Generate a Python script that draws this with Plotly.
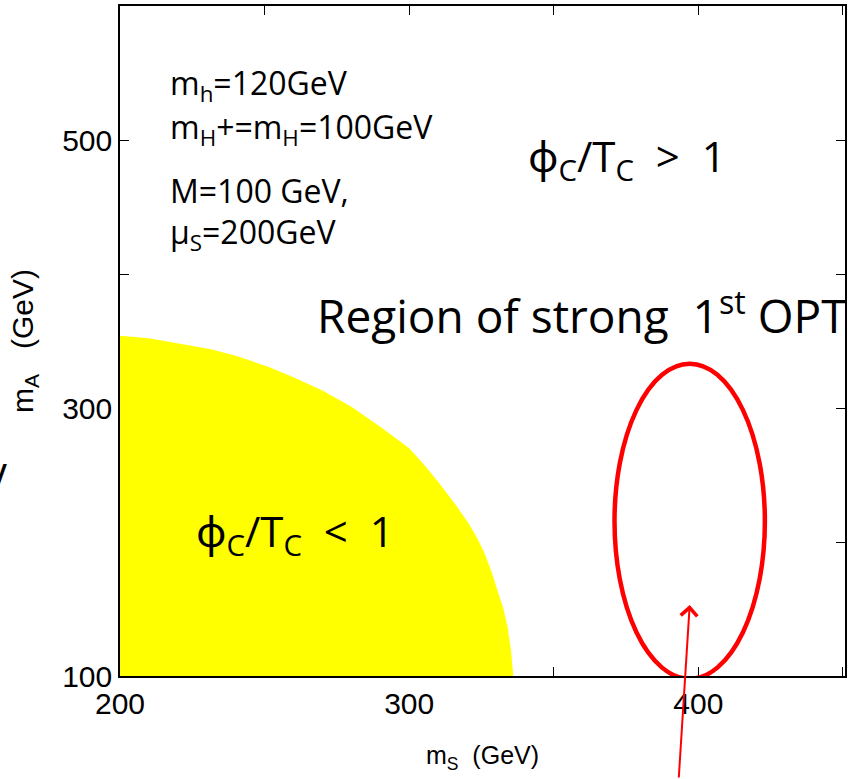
import plotly.graph_objects as go

# Boundary of the region where phi_C/T_C < 1
boundary_ms = [200, 210, 221, 231, 240, 251, 260, 270, 280, 290, 300, 305, 310,
               316, 320.5, 323.5, 326, 328.6, 330.5, 332.5, 334, 335.2, 336]
boundary_ma = [354, 352, 348, 344, 339, 331, 323, 313, 301, 286, 270, 258, 245,
               228, 214, 203, 192, 177, 164, 151, 137, 119, 100]

x_major = [200, 300, 400]
y_major = [100, 300, 500]

# highlighted region (ellipse) in data units
ell_x = [371, 423]
ell_y = [98, 333]
arrow_tip = (397, 153)

fig = go.Figure()
fig.add_trace(go.Scatter(
    x=[200] + boundary_ms + [200],
    y=[100] + boundary_ma + [100],
    fill="toself", fillcolor="#FFFF00", mode="lines",
    line=dict(width=0, color="#FFFF00"), hoverinfo="skip", showlegend=False))

axis_font = dict(family="Liberation Sans Narrow, Liberation Sans, Arial", size=30, color="black")
common = dict(ticks="inside", ticklen=9, tickwidth=1, tickcolor="black",
              showline=True, linecolor="black", linewidth=1.5, mirror="ticks",
              showgrid=False, zeroline=False, layer="below traces", tickfont=axis_font)
fig.update_xaxes(range=[200, 450.7], tickvals=x_major,
                 minor=dict(dtick=50, tick0=200, ticks="inside", ticklen=9, tickcolor="black", showgrid=False),
                 title=dict(text="m<sub>S</sub>  (GeV)",
                            font=dict(family="Liberation Sans, Arial", size=25, color="black"),
                            standoff=28),
                 **common)
fig.update_yaxes(range=[100, 600], tickvals=y_major,
                 minor=dict(dtick=100, tick0=100, ticks="inside", ticklen=9, tickcolor="black", showgrid=False),
                 title=dict(text="m<sub>A</sub>   (GeV)",
                            font=dict(family="Liberation Sans, Arial", size=30, color="black"),
                            standoff=20),
                 **common)

fig.add_shape(type="circle", xref="x", yref="y", x0=ell_x[0], x1=ell_x[1],
              y0=ell_y[0], y1=ell_y[1], line=dict(color="#FF0000", width=4.5))

txt = "Open Sans, Noto Sans, DejaVu Sans"
def note(text, x, y, size, **kw):
    fig.add_annotation(text=text, x=x, y=y, xref="x", yref="y", showarrow=False,
                       xanchor="left", yanchor="middle",
                       font=dict(family=txt, size=size, color="black"), **kw)

note("m<sub>h</sub>=120GeV", 216.5, 541, 32)
note("m<sub>H</sub>+=m<sub>H</sub>=100GeV", 216.5, 508, 32)
note("M=100 GeV,", 216.5, 462, 32)
note("μ<sub>S</sub>=200GeV", 216.5, 430, 32)
note("ϕ<sub>C</sub>/T<sub>C</sub>  >  1", 340.5, 486, 42)
note("Region of strong  1<sup>st</sup> OPT", 267.5, 371, 46)
note("ϕ<sub>C</sub>/T<sub>C</sub>  <  1", 225.5, 206, 42)

fig.add_annotation(x=arrow_tip[0], y=arrow_tip[1], xref="x", yref="y", text="",
                   showarrow=True, arrowhead=4, arrowsize=1.6, arrowwidth=2,
                   arrowcolor="#FF0000", ax=-11, ay=176)

# partially visible letter from the surrounding slide
fig.add_annotation(text="V", xref="paper", yref="paper", x=-0.153, y=0.297,
                   xanchor="right", yanchor="middle", showarrow=False,
                   font=dict(family=txt, size=40, color="black"))

fig.update_layout(width=848, height=779, margin=dict(l=120, r=1, t=6, b=103),
                  plot_bgcolor="white", paper_bgcolor="white", showlegend=False)
fig.write_html("out.html")
